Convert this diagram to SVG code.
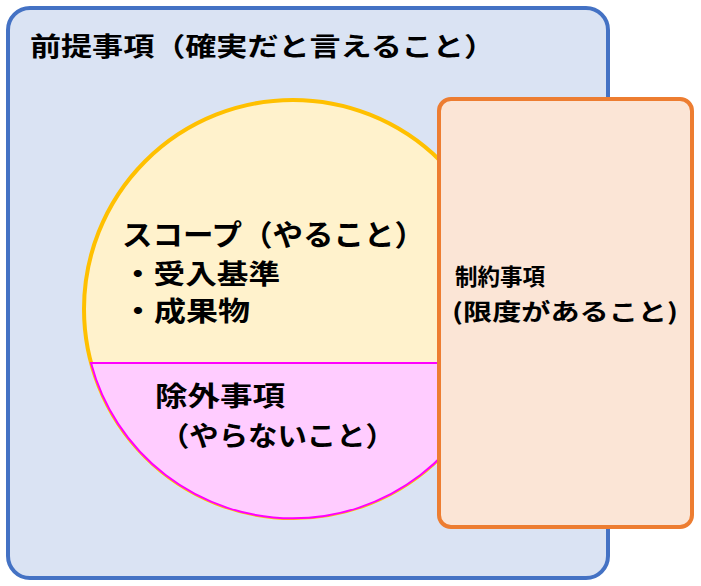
<svg xmlns="http://www.w3.org/2000/svg" width="701" height="586" viewBox="0 0 701 586">
<style>
text{font-family:"Noto Sans CJK JP","Noto Sans CJK SC",sans-serif;font-weight:bold;fill:#000}
</style>
<g id="premise">
<rect x="8" y="8" width="600" height="570" rx="22" fill="#DAE3F3" stroke="#4472C4" stroke-width="4"/>
<text x="30" y="56" font-size="26" textLength="465" lengthAdjust="spacingAndGlyphs">前提事項（確実だと言えること）</text>
</g>
<g id="scope">
<circle cx="293" cy="309" r="209" fill="#FFF2CC" stroke="#FFC000" stroke-width="4"/>
<text x="122" y="246" font-size="29" textLength="303" lengthAdjust="spacingAndGlyphs">スコープ（やること）</text>
<text x="122" y="284" font-size="27" textLength="158" lengthAdjust="spacingAndGlyphs">・受入基準</text>
<text x="122" y="321" font-size="27" textLength="128" lengthAdjust="spacingAndGlyphs">・成果物</text>
</g>
<g id="exclusion">
<path d="M91,363 L495,363 A209 209 0 0 1 91,363 Z" fill="#FFCCFF" stroke="#FF00FF" stroke-width="2"/>
<text x="155" y="406" font-size="27" textLength="130" lengthAdjust="spacingAndGlyphs">除外事項</text>
<text x="160" y="446" font-size="27" textLength="235" lengthAdjust="spacingAndGlyphs">（やらないこと）</text>
</g>
<g id="constraint">
<rect x="439" y="99" width="253" height="428" rx="12" fill="#FBE5D6" stroke="#ED7D31" stroke-width="4"/>
<text x="455" y="285" font-size="23" textLength="90" lengthAdjust="spacingAndGlyphs">制約事項</text>
<text x="452" y="320" font-size="23" textLength="226" lengthAdjust="spacingAndGlyphs">(限度があること)</text>
</g>
<g id="connectors"/>
</svg>
